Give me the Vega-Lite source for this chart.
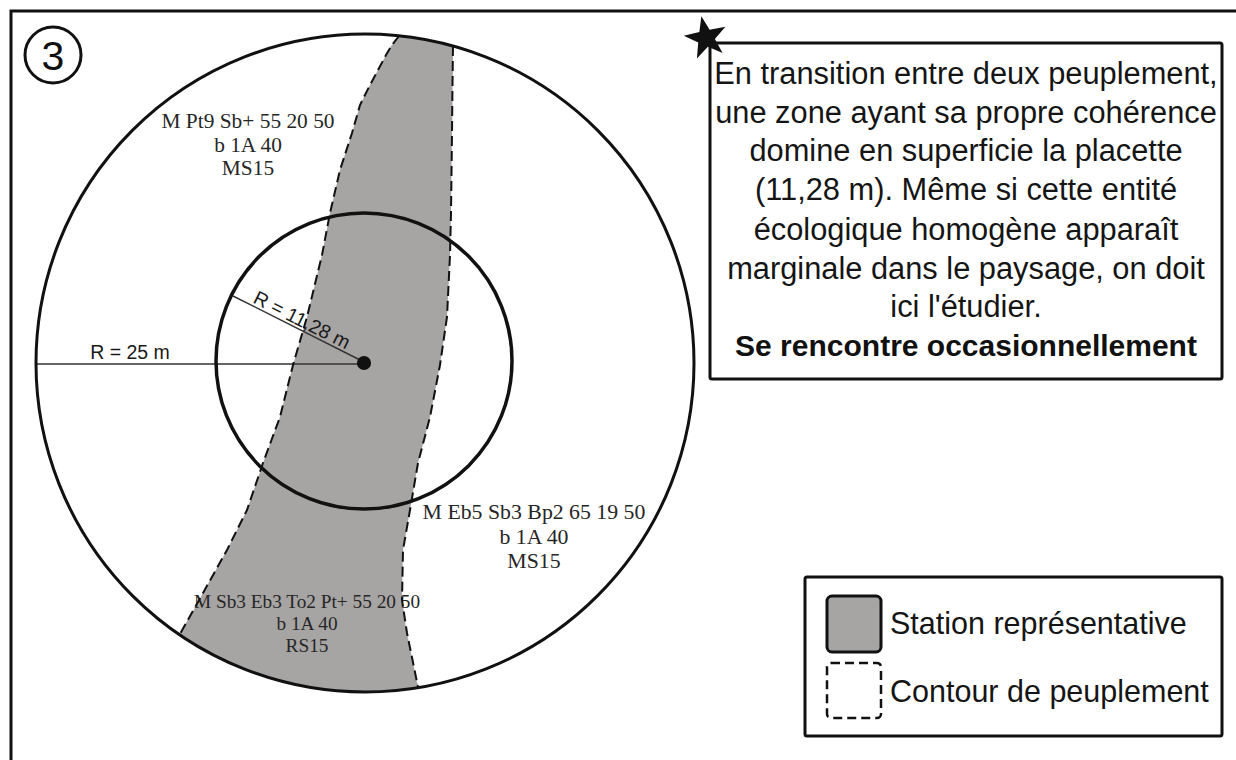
{
  "$schema": "https://vega.github.io/schema/vega-lite/v6.json",
  "width": 1236,
  "height": 760,
  "padding": 0,
  "autosize": {"type": "fit", "contains": "padding"},
  "background": "white",
  "config": {"view": {"stroke": null}},
  "datasets": {
    "frame": [{"x": 11, "x2": 1250, "y": 11, "y2": 780}],
    "band": [
      {"y": 36, "xl": 399, "xr": 401},
      {"y": 38, "xl": 398, "xr": 416},
      {"y": 42, "xl": 395, "xr": 437},
      {"y": 46, "xl": 391, "xr": 453},
      {"y": 55, "xl": 386, "xr": 453},
      {"y": 70, "xl": 378, "xr": 453},
      {"y": 85, "xl": 370, "xr": 452.5},
      {"y": 105, "xl": 360, "xr": 452.5},
      {"y": 133, "xl": 352, "xr": 452},
      {"y": 170, "xl": 340, "xr": 451.5},
      {"y": 213, "xl": 330, "xr": 451},
      {"y": 255, "xl": 322, "xr": 450},
      {"y": 317, "xl": 307, "xr": 447},
      {"y": 365, "xl": 293, "xr": 440},
      {"y": 417, "xl": 280, "xr": 430},
      {"y": 463, "xl": 263, "xr": 418},
      {"y": 510, "xl": 247, "xr": 410},
      {"y": 550, "xl": 227, "xr": 403},
      {"y": 593, "xl": 203, "xr": 402},
      {"y": 615, "xl": 191, "xr": 404},
      {"y": 634, "xl": 179, "xr": 407},
      {"y": 645, "xl": 195.5, "xr": 409.4},
      {"y": 655, "xl": 213.4, "xr": 411.4},
      {"y": 665, "xl": 234.5, "xr": 413.4},
      {"y": 675, "xl": 260.6, "xr": 415.4},
      {"y": 682, "xl": 284.5, "xr": 416.8},
      {"y": 687, "xl": 308, "xr": 419},
      {"y": 690, "xl": 329, "xr": 401},
      {"y": 692, "xl": 365, "xr": 365}
    ],
    "edges": [
      {"side": "L", "x": 399, "y": 36}, {"side": "L", "x": 392, "y": 45}, {"side": "L", "x": 386, "y": 55},
      {"side": "L", "x": 378, "y": 70}, {"side": "L", "x": 370, "y": 85}, {"side": "L", "x": 360, "y": 105},
      {"side": "L", "x": 352, "y": 133}, {"side": "L", "x": 340, "y": 170}, {"side": "L", "x": 330, "y": 213},
      {"side": "L", "x": 322, "y": 255}, {"side": "L", "x": 307, "y": 317}, {"side": "L", "x": 293, "y": 365},
      {"side": "L", "x": 280, "y": 417}, {"side": "L", "x": 263, "y": 463}, {"side": "L", "x": 247, "y": 510},
      {"side": "L", "x": 227, "y": 550}, {"side": "L", "x": 203, "y": 593}, {"side": "L", "x": 180, "y": 634},
      {"side": "R", "x": 453, "y": 46}, {"side": "R", "x": 452.5, "y": 85}, {"side": "R", "x": 452, "y": 133},
      {"side": "R", "x": 451, "y": 213}, {"side": "R", "x": 450, "y": 255}, {"side": "R", "x": 447, "y": 317},
      {"side": "R", "x": 440, "y": 365}, {"side": "R", "x": 430, "y": 417}, {"side": "R", "x": 418, "y": 463},
      {"side": "R", "x": 410, "y": 510}, {"side": "R", "x": 403, "y": 550}, {"side": "R", "x": 402, "y": 600},
      {"side": "R", "x": 407, "y": 633}, {"side": "R", "x": 418, "y": 687}
    ],
    "circles": [
      {"name": "outer", "x": 365, "y": 363, "size": 432964, "sw": 3},
      {"name": "inner", "x": 364, "y": 361, "size": 87616, "sw": 3.5},
      {"name": "badge", "x": 53, "y": 55, "size": 3136, "sw": 3}
    ],
    "radii": [
      {"x": 35, "y": 364, "x2": 364, "y2": 364},
      {"x": 233, "y": 296, "x2": 364, "y2": 362}
    ],
    "dot": [{"x": 364, "y": 363}],
    "serif": [
      {"t": "M Pt9 Sb+ 55 20 50", "x": 248, "y": 128, "fs": 21.4},
      {"t": "b 1A 40", "x": 248, "y": 152, "fs": 21.4},
      {"t": "MS15", "x": 248, "y": 175, "fs": 21.4},
      {"t": "M Eb5 Sb3 Bp2 65 19 50", "x": 534, "y": 519, "fs": 21.8},
      {"t": "b 1A 40", "x": 534, "y": 544, "fs": 21.8},
      {"t": "MS15", "x": 534, "y": 568, "fs": 21.8},
      {"t": "M Sb3 Eb3 To2 Pt+ 55 20 50", "x": 307, "y": 608, "fs": 19.3},
      {"t": "b 1A 40", "x": 307, "y": 630, "fs": 19.3},
      {"t": "RS15", "x": 307, "y": 652, "fs": 19.3}
    ],
    "boxes": [
      {"x": 710, "x2": 1222, "y": 43, "y2": 379}
    ],
    "legendbox": [
      {"x": 805, "x2": 1222, "y": 577, "y2": 736}
    ],
    "swatch": [{"x": 827, "x2": 881, "y": 596, "y2": 652}],
    "dashswatch": [{"x": 827, "x2": 881, "y": 663, "y2": 718}],
    "desc": [
      {"t": "En transition entre deux peuplement,", "y": 84},
      {"t": "une zone ayant sa propre cohérence", "y": 123},
      {"t": "domine en superficie la placette", "y": 161},
      {"t": "(11,28 m). Même si cette entité", "y": 200},
      {"t": "écologique homogène apparaît", "y": 240},
      {"t": "marginale dans le paysage, on doit", "y": 279},
      {"t": "ici l'étudier.", "y": 317}
    ],
    "descbold": [{"t": "Se rencontre occasionnellement", "y": 356}],
    "legendtext": [
      {"t": "Station représentative", "x": 890, "y": 634},
      {"t": "Contour de peuplement", "x": 890, "y": 702}
    ],
    "star": [{"x": 706, "y": 38}]
  },
  "layer": [
    {
      "data": {"name": "frame"},
      "mark": {"type": "rect", "fill": null, "stroke": "#111", "strokeWidth": 3, "clip": true},
      "encoding": {
        "x": {"field": "x", "type": "quantitative", "scale": {"domain": [0, 1236], "nice": false, "zero": false}, "axis": null},
        "x2": {"field": "x2"},
        "y": {"field": "y", "type": "quantitative", "scale": {"domain": [0, 760], "nice": false, "zero": false, "reverse": true}, "axis": null},
        "y2": {"field": "y2"}
      }
    },
    {
      "data": {"name": "band"},
      "mark": {"type": "area", "orient": "horizontal", "color": "#a7a4a4", "opacity": 1},
      "encoding": {
        "y": {"field": "y", "type": "quantitative"},
        "x": {"field": "xl", "type": "quantitative"},
        "x2": {"field": "xr"}
      }
    },
    {
      "data": {"name": "serif"},
      "mark": {"type": "text", "font": "Liberation Serif", "color": "#262626", "align": "center", "baseline": "alphabetic"},
      "encoding": {
        "x": {"field": "x", "type": "quantitative"},
        "y": {"field": "y", "type": "quantitative"},
        "size": {"field": "fs", "type": "quantitative", "scale": null},
        "text": {"field": "t"}
      }
    },
    {
      "data": {"name": "radii"},
      "mark": {"type": "rule", "color": "#333", "strokeWidth": 1.4},
      "encoding": {
        "x": {"field": "x", "type": "quantitative"},
        "y": {"field": "y", "type": "quantitative"},
        "x2": {"field": "x2"},
        "y2": {"field": "y2"}
      }
    },
    {
      "data": {"values": [{"t": "R = 25 m", "x": 130, "y": 359, "a": 0}, {"t": "R = 11,28 m", "x": 299, "y": 326, "a": 26.7}]},
      "mark": {"type": "text", "font": "Liberation Sans", "fontSize": 19.5, "color": "#1a1a1a", "align": "center", "baseline": "alphabetic"},
      "encoding": {
        "x": {"field": "x", "type": "quantitative"},
        "y": {"field": "y", "type": "quantitative"},
        "angle": {"field": "a", "type": "quantitative", "scale": null},
        "text": {"field": "t"}
      }
    },
    {
      "data": {"name": "edges"},
      "mark": {"type": "line", "color": "#111", "strokeWidth": 2, "strokeDash": [10, 5]},
      "encoding": {
        "x": {"field": "x", "type": "quantitative"},
        "y": {"field": "y", "type": "quantitative"},
        "detail": {"field": "side"},
        "order": {"field": "y", "type": "quantitative"}
      }
    },
    {
      "data": {"name": "circles"},
      "mark": {"type": "point", "shape": "circle", "filled": false, "stroke": "#111", "opacity": 1},
      "encoding": {
        "x": {"field": "x", "type": "quantitative"},
        "y": {"field": "y", "type": "quantitative"},
        "size": {"field": "size", "type": "quantitative", "scale": null},
        "strokeWidth": {"field": "sw", "type": "quantitative", "scale": null}
      }
    },
    {
      "data": {"name": "dot"},
      "mark": {"type": "point", "shape": "circle", "filled": true, "color": "#111", "opacity": 1, "size": 200},
      "encoding": {
        "x": {"field": "x", "type": "quantitative"},
        "y": {"field": "y", "type": "quantitative"}
      }
    },
    {
      "data": {"values": [{"t": "3", "x": 53, "y": 70}]},
      "mark": {"type": "text", "font": "Liberation Sans", "fontSize": 41, "color": "#111", "align": "center", "baseline": "alphabetic"},
      "encoding": {
        "x": {"field": "x", "type": "quantitative"},
        "y": {"field": "y", "type": "quantitative"},
        "text": {"field": "t"}
      }
    },
    {
      "data": {"name": "boxes"},
      "mark": {"type": "rect", "fill": "white", "stroke": "#111", "strokeWidth": 3, "cornerRadius": 2},
      "encoding": {
        "x": {"field": "x", "type": "quantitative"},
        "x2": {"field": "x2"},
        "y": {"field": "y", "type": "quantitative"},
        "y2": {"field": "y2"}
      }
    },
    {
      "data": {"name": "star"},
      "mark": {"type": "point", "filled": true, "color": "#111", "opacity": 1, "size": 2000, "angle": -12,
        "shape": "M0,-1L0.235,-0.324L0.951,-0.309L0.38,0.124L0.588,0.809L0,0.4L-0.588,0.809L-0.38,0.124L-0.951,-0.309L-0.235,-0.324Z"},
      "encoding": {
        "x": {"field": "x", "type": "quantitative"},
        "y": {"field": "y", "type": "quantitative"}
      }
    },
    {
      "data": {"name": "desc"},
      "mark": {"type": "text", "font": "Liberation Sans", "fontSize": 30.8, "color": "#151515", "align": "center", "baseline": "alphabetic"},
      "encoding": {
        "x": {"datum": 966, "type": "quantitative"},
        "y": {"field": "y", "type": "quantitative"},
        "text": {"field": "t"}
      }
    },
    {
      "data": {"name": "descbold"},
      "mark": {"type": "text", "font": "Liberation Sans", "fontSize": 30, "fontWeight": "bold", "color": "#111", "align": "center", "baseline": "alphabetic"},
      "encoding": {
        "x": {"datum": 966, "type": "quantitative"},
        "y": {"field": "y", "type": "quantitative"},
        "text": {"field": "t"}
      }
    },
    {
      "data": {"name": "legendbox"},
      "mark": {"type": "rect", "fill": "white", "stroke": "#111", "strokeWidth": 3, "cornerRadius": 2},
      "encoding": {
        "x": {"field": "x", "type": "quantitative"},
        "x2": {"field": "x2"},
        "y": {"field": "y", "type": "quantitative"},
        "y2": {"field": "y2"}
      }
    },
    {
      "data": {"name": "swatch"},
      "mark": {"type": "rect", "fill": "#a7a4a4", "stroke": "#111", "strokeWidth": 3, "cornerRadius": 5},
      "encoding": {
        "x": {"field": "x", "type": "quantitative"},
        "x2": {"field": "x2"},
        "y": {"field": "y", "type": "quantitative"},
        "y2": {"field": "y2"}
      }
    },
    {
      "data": {"name": "dashswatch"},
      "mark": {"type": "rect", "fill": null, "stroke": "#111", "strokeWidth": 2.5, "cornerRadius": 4, "strokeDash": [9, 5]},
      "encoding": {
        "x": {"field": "x", "type": "quantitative"},
        "x2": {"field": "x2"},
        "y": {"field": "y", "type": "quantitative"},
        "y2": {"field": "y2"}
      }
    },
    {
      "data": {"name": "legendtext"},
      "mark": {"type": "text", "font": "Liberation Sans", "fontSize": 30.5, "color": "#151515", "align": "left", "baseline": "alphabetic"},
      "encoding": {
        "x": {"field": "x", "type": "quantitative"},
        "y": {"field": "y", "type": "quantitative"},
        "text": {"field": "t"}
      }
    }
  ]
}
